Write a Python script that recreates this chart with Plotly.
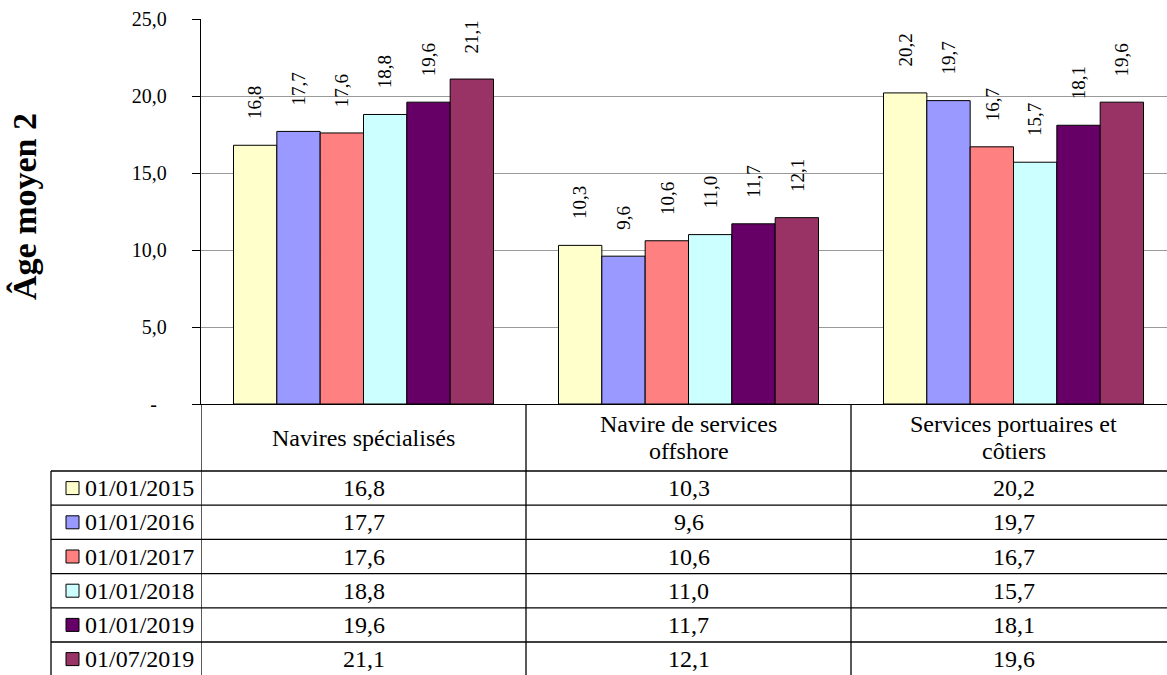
import plotly.graph_objects as go

# ---------------- data ----------------
categories = ["Navires spécialisés", "Navire de services<br>offshore", "Services portuaires et<br>côtiers"]
series_names = ["01/01/2015", "01/01/2016", "01/01/2017", "01/01/2018", "01/01/2019", "01/07/2019"]
v_2015_01 = [16.8, 10.3, 20.2]
v_2016_01 = [17.7, 9.6, 19.7]
v_2017_01 = [17.6, 10.6, 16.7]
v_2018_01 = [18.8, 11.0, 15.7]
v_2019_01 = [19.6, 11.7, 18.1]
v_2019_07 = [21.1, 12.1, 19.6]
series_values = [v_2015_01, v_2016_01, v_2017_01, v_2018_01, v_2019_01, v_2019_07]
colors = ["#FFFFCC", "#9999FF", "#FF8080", "#CCFFFF", "#660066", "#993366"]
y_tickvals = [0, 5, 10, 15, 20, 25]
y_ticktext = ["-\u00a0\u00a0", "5,0", "10,0", "15,0", "20,0", "25,0"]
y_title = "Âge moyen 2"

# ---------------- layout geometry (pixels) ----------------
W, H = 1167, 675
PLOT_LEFT = 201
Y_TOP = 19
Y_ZERO = 404
CAT_PX = 325
HEADER_BOTTOM = 471
ROW_H = 34.2
TABLE_LEFT = 51
FONT = "Liberation Serif"
LINE_C = "black"
LW = 1.3
BARGAP = 0.2


def py(p):
    return (H - p) / H


def px(p):
    return p / W


def fmt(v):
    return f"{v:.1f}".replace(".", ",")


fig = go.Figure()
for name, vals, col in zip(series_names, series_values, colors):
    fig.add_trace(go.Bar(
        x=categories, y=vals, name=name,
        marker=dict(color=col, line=dict(color="black", width=1)),
        showlegend=False, hoverinfo="skip",
    ))

plot_w = W - PLOT_LEFT
x_span = plot_w / CAT_PX

annotations = []
shapes = []
n = len(series_names)
bw = (1 - BARGAP) / n

# data labels above bars
for j, vals in enumerate(series_values):
    for i, v in enumerate(vals):
        annotations.append(dict(
            x=i - (1 - BARGAP) / 2 + (j + 0.5) * bw, xref="x",
            y=v, yref="y", yanchor="bottom", xanchor="center",
            yshift=24, text=fmt(v), textangle=-90, showarrow=False,
            font=dict(family=FONT, size=19, color="black"),
        ))

# header row text
HEADER_C = (Y_ZERO + HEADER_BOTTOM) / 2
for i, cat in enumerate(categories):
    lines = cat.split("<br>")
    m = len(lines)
    for k, line in enumerate(lines):
        yc = HEADER_C + (k - (m - 1) / 2) * 26
        annotations.append(dict(
            x=i, xref="x", y=py(yc), yref="paper", yanchor="middle", xanchor="center",
            text=line, showarrow=False, font=dict(family=FONT, size=24, color="black"),
        ))

# table rows
for j, (name, vals, col) in enumerate(zip(series_names, series_values, colors)):
    top = HEADER_BOTTOM + j * ROW_H
    yc = top + ROW_H / 2
    annotations.append(dict(
        x=px(83), xref="paper", y=py(yc), yref="paper", xanchor="left", yanchor="middle",
        text=name, showarrow=False, font=dict(family=FONT, size=24, color="black"),
    ))
    shapes.append(dict(type="rect", xref="paper", yref="paper",
                       x0=px(66), x1=px(79), y0=py(yc - 6.5), y1=py(yc + 6.5),
                       fillcolor=col, line=dict(color="black", width=1)))
    for i, v in enumerate(vals):
        annotations.append(dict(
            x=i, xref="x", y=py(yc), yref="paper", xanchor="center", yanchor="middle",
            text=fmt(v), showarrow=False, font=dict(family=FONT, size=24, color="black"),
        ))
    # row top line
    shapes.append(dict(type="line", xref="paper", yref="paper",
                       x0=px(TABLE_LEFT), x1=1, y0=py(top), y1=py(top),
                       line=dict(color=LINE_C, width=LW)))

n_rows = len(series_names)
# left border of table
shapes.append(dict(type="line", xref="paper", yref="paper",
                   x0=px(TABLE_LEFT), x1=px(TABLE_LEFT), y0=py(HEADER_BOTTOM), y1=py(HEADER_BOTTOM + n_rows * ROW_H),
                   line=dict(color=LINE_C, width=LW)))
# column boundaries (category edges)
for b in range(len(categories)):
    shapes.append(dict(type="line", xref="x", yref="paper",
                       x0=b - 0.5, x1=b - 0.5, y0=py(Y_ZERO), y1=py(HEADER_BOTTOM + n_rows * ROW_H),
                       line=dict(color=LINE_C, width=LW)))

# y-axis title
annotations.append(dict(
    x=px(25), xref="paper", y=py(207), yref="paper", xanchor="center", yanchor="middle",
    text=y_title, textangle=-90, showarrow=False,
    font=dict(family=FONT, size=34, color="black", weight="bold"),
))

fig.update_layout(
    width=W, height=H,
    margin=dict(l=0, r=0, t=0, b=0, autoexpand=False),
    paper_bgcolor="white", plot_bgcolor="white",
    barmode="group", bargap=BARGAP, bargroupgap=0,
    showlegend=False,
    xaxis=dict(
        domain=[px(PLOT_LEFT), 1], range=[-0.5, -0.5 + x_span],
        showticklabels=False, ticks="", showgrid=False, zeroline=False, automargin=False,
        showline=True, linecolor="black", linewidth=LW, fixedrange=True,
    ),
    yaxis=dict(
        domain=[py(Y_ZERO), py(Y_TOP)], range=[0, 25], automargin=False,
        tickvals=y_tickvals, ticktext=y_ticktext,
        tickfont=dict(family=FONT, size=20, color="black"),
        ticks="outside", ticklen=8, tickcolor="black", tickwidth=1,
        ticklabelstandoff=21,
        showgrid=True, gridcolor="#9a9a9a", gridwidth=1,
        zeroline=False, showline=True, linecolor="black", linewidth=LW, fixedrange=True,
    ),
    annotations=annotations,
    shapes=shapes,
)

fig.write_html("out.html", config={"displayModeBar": False},
               post_script="document.body.style.margin='0';")
